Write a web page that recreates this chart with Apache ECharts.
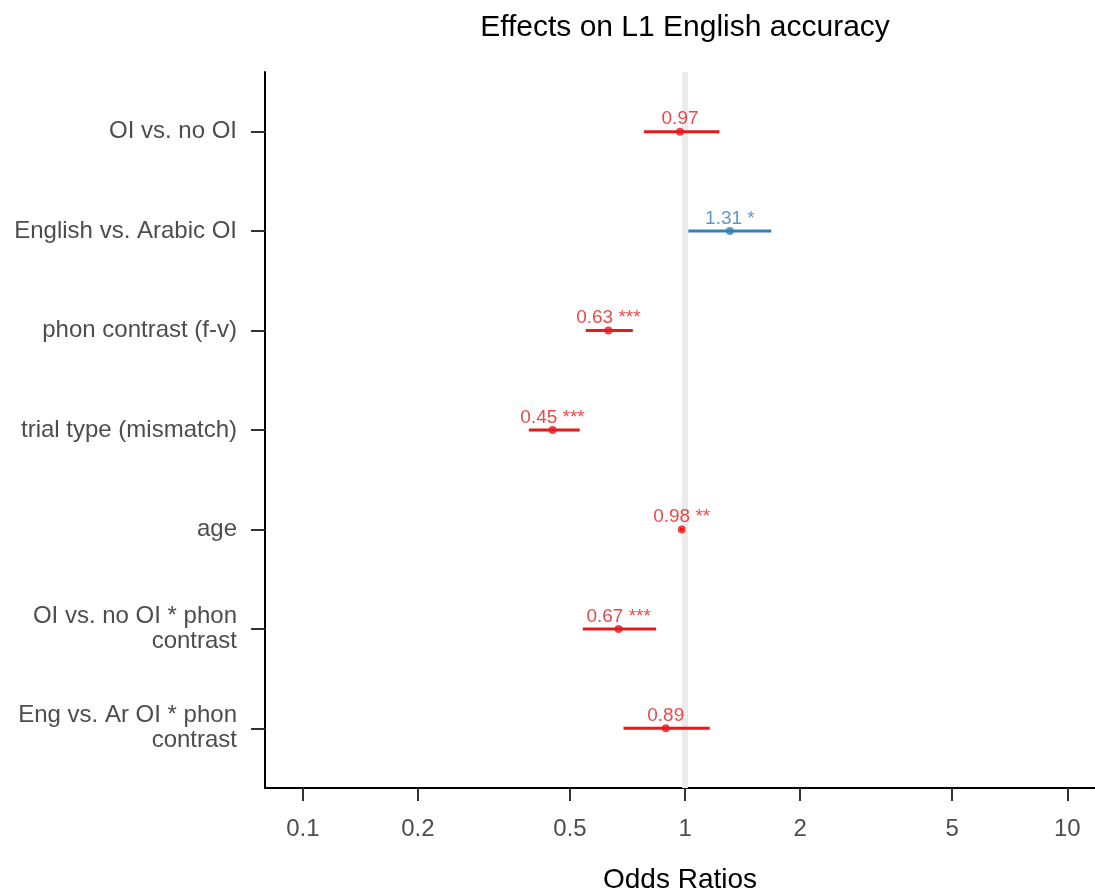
<!DOCTYPE html>
<html>
<head>
<meta charset="utf-8">
<style>
  html, body { margin: 0; padding: 0; background: #fff; }
  #chart { width: 1095px; height: 893px; }
</style>
<script src="https://cdn.jsdelivr.net/npm/echarts@6/dist/echarts.min.js"></script>
</head>
<body>
<div id="chart"></div>
<script>
// Model terms, top to bottom
const rowLabels = [
  'OI vs. no OI',
  'English vs. Arabic OI',
  'phon contrast (f-v)',
  'trial type (mismatch)',
  'age',
  'OI vs. no OI * phon\ncontrast',
  'Eng vs. Ar OI * phon\ncontrast'
];
// Odds ratios with 95% confidence intervals
const estimates = [0.97, 1.31, 0.63, 0.45, 0.98, 0.67, 0.89];
const ciLower   = [0.78, 1.02, 0.55, 0.39, 0.97, 0.54, 0.69];
const ciUpper   = [1.23, 1.68, 0.73, 0.53, 0.99, 0.84, 1.16];
const stars     = ['', '*', '***', '***', '**', '***', ''];

// Odds-ratio axis ticks
const xTickValues = [0.1, 0.2, 0.5, 1, 2, 5, 10];
const xTickLabels = ['0.1', '0.2', '0.5', '1', '2', '5', '10'];

const RED = '#e41a1c';
const BLUE = '#377eb8';
const FONT = 'Liberation Sans, Arial, sans-serif';

const log10 = Math.log10;
const colorOf = v => (v > 1 ? BLUE : RED);

const pointData = estimates.map((v, i) => ({
  value: [log10(v), i],
  itemStyle: { color: colorOf(v) },
  label: { color: colorOf(v) }
}));
const ciData = estimates.map((v, i) => [log10(ciLower[i]), log10(ciUpper[i]), i, v]);

const chart = echarts.init(document.getElementById('chart'), null, { renderer: 'canvas' });

chart.setOption({
  backgroundColor: '#ffffff',
  animation: false,
  title: {
    text: 'Effects on L1 English accuracy',
    left: 680,
    top: 8,
    textAlign: 'center',
    textStyle: { fontFamily: FONT, fontSize: 30, fontWeight: 'normal', color: '#000' }
  },
  grid: {
    left: 265, right: 0, top: 72, bottom: 105,
    containLabel: false, outerBoundsMode: 'none'
  },
  xAxis: {
    type: 'value',
    min: log10(0.0796),
    max: 1.0725,
    name: 'Odds Ratios',
    nameLocation: 'middle',
    nameGap: 78,
    nameTextStyle: { fontFamily: FONT, fontSize: 28, color: '#000' },
    axisLine: { show: true, onZero: false, lineStyle: { color: '#000', width: 2 } },
    axisTick: {
      show: true, length: 13, lineStyle: { color: '#333', width: 2 },
      customValues: xTickValues.map(log10)
    },
    axisLabel: {
      fontFamily: FONT, fontSize: 24, color: '#4d4d4d', margin: 29,
      customValues: xTickValues.map(log10),
      formatter: v => {
        let best = 0;
        xTickValues.forEach((t, k) => {
          if (Math.abs(log10(t) - v) < Math.abs(log10(xTickValues[best]) - v)) best = k;
        });
        return xTickLabels[best];
      }
    },
    splitLine: { show: false }
  },
  yAxis: {
    type: 'value',
    inverse: true,
    min: -0.6,
    max: 6.6,
    axisLine: { show: true, onZero: false, lineStyle: { color: '#000', width: 2 } },
    axisTick: {
      show: true, length: 14, lineStyle: { color: '#333', width: 2 },
      customValues: rowLabels.map((_, i) => i)
    },
    axisLabel: {
      fontFamily: FONT, fontSize: 24, color: '#4d4d4d', margin: 28,
      lineHeight: 25, align: 'right',
      customValues: rowLabels.map((_, i) => i),
      formatter: v => rowLabels[Math.round(v)]
    },
    splitLine: { show: false }
  },
  series: [
    {
      // reference line at odds ratio 1
      type: 'line',
      data: [],
      z: 1,
      silent: true,
      markLine: {
        z: 1,
        silent: true,
        symbol: ['none', 'none'],
        label: { show: false },
        lineStyle: { color: '#ebebeb', width: 6, type: 'solid' },
        data: [{ xAxis: log10(1) }]
      }
    },
    {
      // confidence interval whiskers
      type: 'custom',
      z: 2,
      data: ciData,
      encode: { x: [0, 1], y: 2 },
      renderItem: (params, api) => {
        const a = api.coord([api.value(0), api.value(2)]);
        const b = api.coord([api.value(1), api.value(2)]);
        return {
          type: 'line',
          shape: { x1: a[0], y1: a[1], x2: b[0], y2: b[1] },
          style: { stroke: colorOf(api.value(3)), lineWidth: 3 }
        };
      }
    },
    {
      // point estimates with value labels
      type: 'scatter',
      z: 3,
      symbol: 'circle',
      symbolSize: 8,
      data: pointData,
      label: {
        show: true,
        position: 'top',
        distance: -1,
        fontFamily: FONT,
        fontSize: 19,
        formatter: p => {
          const i = p.dataIndex;
          return estimates[i].toFixed(2) + (stars[i] ? ' ' + stars[i] : '');
        }
      }
    }
  ]
});
</script>
</body>
</html>
